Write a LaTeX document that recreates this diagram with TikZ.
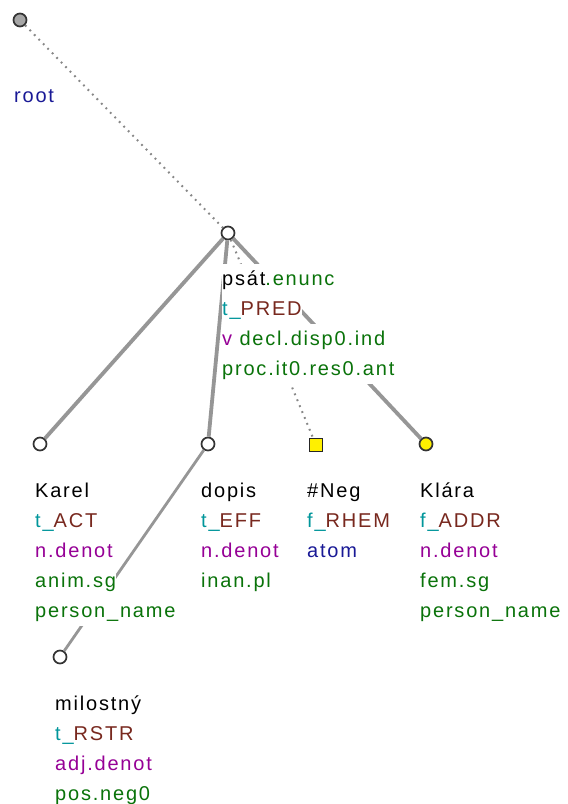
\documentclass[tikz,border=0pt]{standalone}
\usepackage{fontspec}
\newfontfamily\labfont[LetterSpace=9]{Liberation Sans}
\definecolor{cteal}{RGB}{0,150,155}
\definecolor{cbrown}{RGB}{120,40,30}
\definecolor{cpurple}{RGB}{150,0,150}
\definecolor{cgreen}{RGB}{10,115,10}
\definecolor{cblue}{RGB}{25,25,150}
\definecolor{cedge}{RGB}{150,150,150}
\definecolor{cdot}{RGB}{135,135,135}
\definecolor{cyel}{RGB}{255,240,0}
\begin{document}
\begin{tikzpicture}[x=1pt,y=-1pt,
  tnode/.style={circle,draw=black!80,line width=1.7pt,fill=white,minimum size=13pt,inner sep=0pt},
  sqnode/.style={rectangle,draw=black!85,line width=1.5pt,fill=cyel,minimum size=13pt,inner sep=0pt},
  lab/.style={anchor=base west,inner xsep=0pt,inner ysep=0pt,text height=21pt,text depth=9pt,fill=white,font=\labfont\fontsize{20}{22}\selectfont,text=black},
  thick edge/.style={draw=cedge,line width=3.8pt},
  mid edge/.style={draw=cedge,line width=2.8pt},
  dot edge/.style={draw=cdot,line width=2pt,dash pattern=on 1.8pt off 4.6pt}]
\useasboundingbox (0,0) rectangle (568,804);
% nodes
\node[tnode,fill=black!35] (root) at (20,20) {};
\node[tnode] (psat) at (228,233) {};
\node[tnode] (karel) at (40,444) {};
\node[tnode] (dopis) at (208,444) {};
\node[sqnode] (neg) at (316,445) {};
\node[tnode,fill=cyel] (klara) at (426,444) {};
\node[tnode] (milos) at (60,657) {};
% edges
\draw[dot edge] (root) -- (psat);
\draw[thick edge] (psat) -- (karel);
\draw[thick edge] (psat) -- (dopis);
\draw[dot edge] (psat) -- (neg);
\draw[thick edge] (psat) -- (klara);
\draw[mid edge] (dopis) -- (milos);
% labels
\node[lab,text=cblue] (rootl) at (14,102) {root};

\node[lab] (psat1) at (222,285) {psát\textcolor{cgreen}{.enunc}};
\node[lab] (psat2) at (222,315) {\textcolor{cteal}{t\_}\textcolor{cbrown}{PRED}};
\node[lab] (psat3) at (222,345) {\textcolor{cpurple}{v} \textcolor{cgreen}{decl.disp0.ind}};
\node[lab,text=cgreen] (psat4) at (222,375) {proc.it0.res0.ant};

\node[lab] (karel1) at (35,497) {Karel};
\node[lab] (karel2) at (35,527) {\textcolor{cteal}{t\_}\textcolor{cbrown}{ACT}};
\node[lab,text=cpurple] (karel3) at (35,557) {n.denot};
\node[lab,text=cgreen] (karel4) at (35,587) {anim.sg};
\node[lab,text=cgreen] (karel5) at (35,617) {person\_name};

\node[lab] (dopis1) at (201,497) {dopis};
\node[lab] (dopis2) at (201,527) {\textcolor{cteal}{t\_}\textcolor{cbrown}{EFF}};
\node[lab,text=cpurple] (dopis3) at (201,557) {n.denot};
\node[lab,text=cgreen] (dopis4) at (201,587) {inan.pl};

\node[lab] (neg1) at (307,497) {\#Neg};
\node[lab] (neg2) at (307,527) {\textcolor{cteal}{f\_}\textcolor{cbrown}{RHEM}};
\node[lab,text=cblue] (neg3) at (307,557) {atom};

\node[lab] (klara1) at (420,497) {Klára};
\node[lab] (klara2) at (420,527) {\textcolor{cteal}{f\_}\textcolor{cbrown}{ADDR}};
\node[lab,text=cpurple] (klara3) at (420,557) {n.denot};
\node[lab,text=cgreen] (klara4) at (420,587) {fem.sg};
\node[lab,text=cgreen] (klara5) at (420,617) {person\_name};

\node[lab] (milos1) at (55,710) {milostný};
\node[lab] (milos2) at (55,740) {\textcolor{cteal}{t\_}\textcolor{cbrown}{RSTR}};
\node[lab,text=cpurple] (milos3) at (55,770) {adj.denot};
\node[lab,text=cgreen] (milos4) at (55,800) {pos.neg0};
\end{tikzpicture}
\end{document}
